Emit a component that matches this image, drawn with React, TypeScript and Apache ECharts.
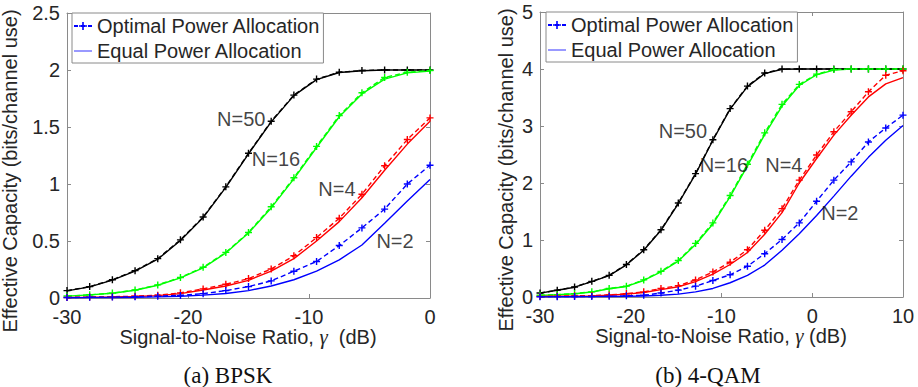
import React, { useEffect, useRef } from "react";
import * as echarts from "echarts";

// ---------- data ----------
const xBpsk = [-30, -28.125, -26.25, -24.375, -22.5, -20.625, -18.75, -16.875, -15, -13.125, -11.25, -9.375, -7.5, -5.625, -3.75, -1.875, 0];

const bpskN50Opt = [0.065, 0.1, 0.16, 0.24, 0.345, 0.51, 0.71, 0.975, 1.27, 1.55, 1.78, 1.92, 1.98, 1.995, 2, 2, 2];
const bpskN50Eq = [0.063, 0.098, 0.157, 0.236, 0.34, 0.505, 0.705, 0.97, 1.265, 1.545, 1.775, 1.915, 1.978, 1.994, 2, 2, 2];
const bpskN16Opt = [0.017, 0.028, 0.043, 0.07, 0.115, 0.18, 0.27, 0.4, 0.575, 0.8, 1.055, 1.33, 1.6, 1.8, 1.935, 1.98, 1.995];
const bpskN16Eq = [0.016, 0.027, 0.042, 0.068, 0.112, 0.176, 0.265, 0.395, 0.57, 0.79, 1.045, 1.32, 1.59, 1.79, 1.92, 1.975, 1.99];
const bpskN4Opt = [0.005, 0.008, 0.011, 0.016, 0.025, 0.045, 0.08, 0.12, 0.17, 0.255, 0.37, 0.53, 0.7, 0.91, 1.16, 1.39, 1.58];
const bpskN4Eq = [0.004, 0.006, 0.009, 0.013, 0.021, 0.038, 0.07, 0.105, 0.155, 0.235, 0.345, 0.5, 0.67, 0.88, 1.12, 1.35, 1.55];
const bpskN2Opt = [0.004, 0.006, 0.008, 0.011, 0.016, 0.023, 0.038, 0.065, 0.1, 0.15, 0.235, 0.32, 0.46, 0.615, 0.78, 1.0, 1.165];
const bpskN2Eq = [0.002, 0.003, 0.005, 0.007, 0.01, 0.015, 0.025, 0.04, 0.065, 0.105, 0.16, 0.235, 0.335, 0.465, 0.655, 0.85, 1.04];

const xQam = [-30, -28.1, -26.19, -24.29, -22.38, -20.48, -18.57, -16.67, -14.76, -12.86, -10.95, -9.05, -7.14, -5.24, -3.33, -1.43, 0.48, 2.38, 4.29, 6.19, 8.1, 10];

const qamN50Opt = [0.07, 0.12, 0.175, 0.275, 0.38, 0.57, 0.83, 1.18, 1.65, 2.165, 2.76, 3.305, 3.7, 3.93, 4, 4, 4, 4, 4, 4, 4, 4];
const qamN50Eq = [0.068, 0.118, 0.172, 0.27, 0.375, 0.565, 0.82, 1.17, 1.64, 2.155, 2.75, 3.295, 3.69, 3.92, 3.995, 4, 4, 4, 4, 4, 4, 4];
const qamN16Opt = [0.03, 0.04, 0.06, 0.09, 0.15, 0.19, 0.3, 0.45, 0.64, 0.94, 1.3, 1.78, 2.33, 2.88, 3.38, 3.73, 3.91, 3.99, 4, 4, 4, 4];
const qamN16Eq = [0.029, 0.039, 0.058, 0.088, 0.145, 0.185, 0.29, 0.44, 0.63, 0.92, 1.28, 1.76, 2.3, 2.85, 3.35, 3.71, 3.9, 3.98, 4, 4, 4, 4];
const qamN4Opt = [0.01, 0.015, 0.02, 0.025, 0.035, 0.06, 0.09, 0.15, 0.2, 0.3, 0.44, 0.61, 0.83, 1.17, 1.55, 2.05, 2.49, 2.9, 3.25, 3.6, 3.89, 3.97];
const qamN4Eq = [0.008, 0.012, 0.016, 0.02, 0.03, 0.05, 0.08, 0.13, 0.18, 0.27, 0.4, 0.57, 0.78, 1.1, 1.48, 2.0, 2.43, 2.84, 3.19, 3.51, 3.74, 3.85];
const qamN2Opt = [0.005, 0.006, 0.008, 0.01, 0.013, 0.02, 0.03, 0.07, 0.12, 0.19, 0.29, 0.39, 0.54, 0.76, 1.01, 1.3, 1.68, 2.05, 2.37, 2.72, 2.965, 3.19];
const qamN2Eq = [0.003, 0.004, 0.005, 0.007, 0.009, 0.012, 0.018, 0.03, 0.05, 0.09, 0.15, 0.25, 0.38, 0.56, 0.82, 1.11, 1.43, 1.77, 2.12, 2.45, 2.75, 3.01];

const bpskLabels = [
  { text: "N=50", x: -15.6, y: 1.567 },
  { text: "N=16", x: -12.73, y: 1.215 },
  { text: "N=4", x: -7.69, y: 0.96 },
  { text: "N=2", x: -2.89, y: 0.5 },
];
const qamLabels = [
  { text: "N=50", x: -14.25, y: 2.91 },
  { text: "N=16", x: -9.74, y: 2.31 },
  { text: "N=4", x: -3.13, y: 2.31 },
  { text: "N=2", x: 3.04, y: 1.47 },
];

const legendNames = ["Optimal Power Allocation", "Equal Power Allocation"];
const yAxisTitle = "Effective Capacity (bits/channel use)";
const captions = ["(a) BPSK", "(b) 4-QAM"];

// ---------- styling ----------
const SANS = '"Liberation Sans", Arial, sans-serif';
const SERIF = '"Liberation Serif", "DejaVu Serif", serif';
const TEXT = "#262626";
const AXIS = "#8a8a8a";
const PLUS = "path://M4,0H6V4H10V6H6V10H4V6H0V4H4Z";
const LINE_ICON = "path://M0,9.2H36V10.8H0Z";

const BLACK = "#000000";
const GREEN = "#00ff00";
const RED = "#ff0000";
const BLUE = "#0000ff";

function curve(name: string, xs: number[], ys: number[], color: string, opt: boolean, grid: number) {
  return {
    type: "line",
    name,
    xAxisIndex: grid * 2,
    yAxisIndex: grid * 2,
    data: xs.map((x, i) => [x, ys[i]]),
    symbol: opt ? PLUS : "none",
    symbolSize: 7,
    showSymbol: opt,
    lineStyle: { color, width: 1.4, type: opt ? [5, 3] : "solid" },
    itemStyle: { color },
    z: opt ? 3 : 2,
    silent: true,
  };
}

function annotations(labels: { text: string; x: number; y: number }[], grid: number) {
  return {
    type: "scatter",
    name: "ann" + grid,
    xAxisIndex: grid * 2,
    yAxisIndex: grid * 2,
    symbolSize: 1,
    itemStyle: { color: "rgba(0,0,0,0)" },
    data: labels.map((l) => ({ name: l.text, value: [l.x, l.y] })),
    label: {
      show: true,
      position: "inside",
      formatter: "{b}",
      fontSize: 20,
      fontFamily: SANS,
      color: "#111",
    },
    z: 10,
    silent: true,
  };
}

const axisLineStyle = { show: true, onZero: false, lineStyle: { color: AXIS, width: 1 } };
const tickStyle = { show: true, inside: true, length: 4, lineStyle: { color: AXIS } };

function xAx(grid: number, min: number, max: number, mirror: boolean) {
  return {
    type: "value",
    gridIndex: grid,
    min,
    max,
    interval: 10,
    position: mirror ? "top" : "bottom",
    axisLine: axisLineStyle,
    axisTick: tickStyle,
    axisLabel: mirror ? { show: false } : { color: TEXT, fontSize: 20, fontFamily: SANS, margin: 9 },
    splitLine: { show: false },
  };
}
function yAx(grid: number, max: number, interval: number, mirror: boolean) {
  return {
    type: "value",
    gridIndex: grid,
    min: 0,
    max,
    interval,
    position: mirror ? "right" : "left",
    axisLine: axisLineStyle,
    axisTick: tickStyle,
    axisLabel: mirror ? { show: false } : { color: TEXT, fontSize: 20, fontFamily: SANS, margin: 7 },
    splitLine: { show: false },
  };
}

function legendAt(left: number, top: number) {
  return {
    data: [
      { name: legendNames[0] },
      { name: legendNames[1], icon: LINE_ICON, itemStyle: { color: BLUE } },
    ],
    left,
    top,
    orient: "vertical",
    selectedMode: false,
    itemWidth: 18,
    itemHeight: 10,
    itemGap: 3,
    padding: [2, 3, 1, 1],
    backgroundColor: "#ffffff",
    borderColor: AXIS,
    borderWidth: 1,
    borderRadius: 0,
    textStyle: { color: TEXT, fontSize: 20, fontFamily: SANS, lineHeight: 22 },
  };
}

function axisTitleX(cx: number, cy: number, twoSpaces: boolean) {
  return {
    type: "text",
    x: cx,
    y: cy,
    style: {
      text: "Signal-to-Noise Ratio, {g|γ}" + (twoSpaces ? "  " : " ") + "(dB)",
      align: "center",
      verticalAlign: "middle",
      fontSize: 20,
      fontFamily: SANS,
      fill: TEXT,
      rich: { g: { fontSize: 21, fontFamily: SERIF, fontStyle: "italic", fill: TEXT } },
    },
  };
}
function axisTitleY(cx: number, cy: number) {
  return {
    type: "text",
    x: cx,
    y: cy,
    rotation: Math.PI / 2,
    style: {
      text: yAxisTitle,
      align: "center",
      verticalAlign: "middle",
      fontSize: 20,
      fontFamily: SANS,
      fill: TEXT,
    },
  };
}
function caption(text: string, cx: number, cy: number) {
  return {
    type: "text",
    x: cx,
    y: cy,
    style: {
      text,
      align: "center",
      verticalAlign: "middle",
      fontSize: 23,
      fontFamily: SERIF,
      fill: "#111",
    },
  };
}

export default function App() {
  const ref = useRef<HTMLDivElement>(null);
  useEffect(() => {
    if (!ref.current) return;
    const chart = echarts.init(ref.current, undefined, { renderer: "svg" });
    const option = {
      animation: false,
      backgroundColor: "#ffffff",
      grid: [
        { left: 67, top: 13, width: 363, height: 285 },
        { left: 540, top: 12, width: 363, height: 285 },
      ],
      xAxis: [xAx(0, -30, 0, false), xAx(0, -30, 0, true), xAx(1, -30, 10, false), xAx(1, -30, 10, true)],
      yAxis: [yAx(0, 2.5, 0.5, false), yAx(0, 2.5, 0.5, true), yAx(1, 5, 1, false), yAx(1, 5, 1, true)],
      legend: [legendAt(72, 13), legendAt(546, 12)],
      series: [
        // legend-only entries
        {
          type: "line",
          name: legendNames[0],
          xAxisIndex: 0,
          yAxisIndex: 0,
          data: [],
          symbol: PLUS,
          symbolSize: 8,
          lineStyle: { color: BLUE, width: 1.4, type: [4, 3] },
          itemStyle: { color: BLUE },
        },
        {
          type: "line",
          name: legendNames[1],
          xAxisIndex: 0,
          yAxisIndex: 0,
          data: [],
          symbol: "none",
          lineStyle: { color: BLUE, width: 1.4 },
          itemStyle: { color: BLUE },
        },
        curve("bpsk50e", xBpsk, bpskN50Eq, BLACK, false, 0),
        curve("bpsk50o", xBpsk, bpskN50Opt, BLACK, true, 0),
        curve("bpsk16e", xBpsk, bpskN16Eq, GREEN, false, 0),
        curve("bpsk16o", xBpsk, bpskN16Opt, GREEN, true, 0),
        curve("bpsk4e", xBpsk, bpskN4Eq, RED, false, 0),
        curve("bpsk4o", xBpsk, bpskN4Opt, RED, true, 0),
        curve("bpsk2e", xBpsk, bpskN2Eq, BLUE, false, 0),
        curve("bpsk2o", xBpsk, bpskN2Opt, BLUE, true, 0),
        curve("qam50e", xQam, qamN50Eq, BLACK, false, 1),
        curve("qam50o", xQam, qamN50Opt, BLACK, true, 1),
        curve("qam16e", xQam, qamN16Eq, GREEN, false, 1),
        curve("qam16o", xQam, qamN16Opt, GREEN, true, 1),
        curve("qam4e", xQam, qamN4Eq, RED, false, 1),
        curve("qam4o", xQam, qamN4Opt, RED, true, 1),
        curve("qam2e", xQam, qamN2Eq, BLUE, false, 1),
        curve("qam2o", xQam, qamN2Opt, BLUE, true, 1),
        annotations(bpskLabels, 0),
        annotations(qamLabels, 1),
      ],
      graphic: [
        axisTitleY(10, 171),
        axisTitleY(506, 170),
        axisTitleX(248, 337, true),
        axisTitleX(721, 336, false),
        caption(captions[0], 228, 375),
        caption(captions[1], 708, 375),
      ],
    };
    chart.setOption(option as any);
    return () => chart.dispose();
  }, []);
  return (
    <div
      ref={ref}
      style={{ position: "absolute", left: 0, top: 0, width: 918, height: 387, background: "#fff" }}
    />
  );
}
